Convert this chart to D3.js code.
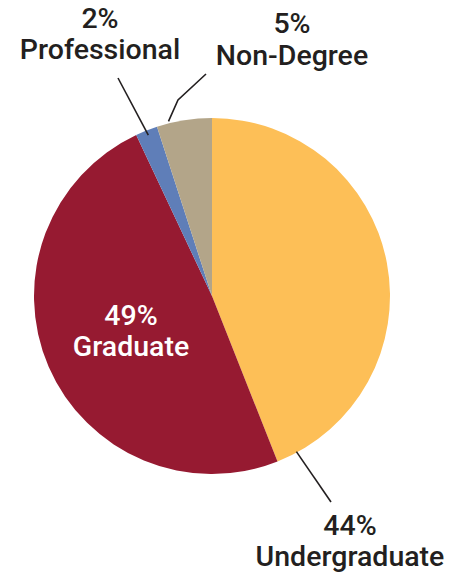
<!DOCTYPE html>
<html><head><meta charset="utf-8">
<script src="https://cdn.jsdelivr.net/npm/d3@7"></script>
<style>html,body{margin:0;padding:0;background:#fff}</style>
</head><body>
<svg id="c" width="464" height="573"></svg>
<script>
const categories = ["Undergraduate", "Graduate", "Professional", "Non-Degree"];
const values = [44, 49, 2, 5];
const pctLabels = ["44%", "49%", "2%", "5%"];
const colors = ["#FDBF57", "#961A31", "#5F7EB8", "#B3A589"];

const svg = d3.select("#c");
const cx = 212, cy = 296, R = 178;
const g = svg.append("g").attr("transform", `translate(${cx},${cy})`);
const pie = d3.pie().sort(null).value(d => d)(values);
const arc = d3.arc().innerRadius(0).outerRadius(R);
g.selectAll("path").data(pie).join("path")
  .attr("d", arc).attr("fill", (d, i) => colors[i]);

const font = "Roboto, sans-serif";
const layout = [
  {x: 350, y1: 535, y2: 566, fill: "#231f20"},
  {x: 131, y1: 325, y2: 356, fill: "#ffffff"},
  {x: 100, y1: 28, y2: 59, fill: "#231f20"},
  {x: 292, y1: 33, y2: 65, fill: "#231f20"}
];
categories.forEach((c, i) => {
  const L = layout[i];
  const t = svg.append("g").attr("font-family", font).attr("font-weight", 500)
    .attr("font-size", 28.5).attr("fill", L.fill).attr("text-anchor", "middle");
  t.append("text").attr("x", L.x).attr("y", L.y1).text(pctLabels[i]);
  t.append("text").attr("x", L.x).attr("y", L.y2).text(c);
});

const line = d3.line();
const pt = (a, r) => [cx + r * Math.sin(a), cy - r * Math.cos(a)];
function mid(d) { return (d.startAngle + d.endAngle) / 2; }
const lead = svg.append("g").attr("fill", "none").attr("stroke", "#231f20").attr("stroke-width", 1.6);
lead.append("path").attr("d", line([pt(pie[0].endAngle - 0.12, R - 1), [331, 502]]));
lead.append("path").attr("d", line([pt(mid(pie[2]), R - 5), [118, 78]]));
lead.append("path").attr("d", line([pt(pie[3].startAngle + 0.07, R + 2), [178, 100], [206, 74]]));
</script>
</body></html>
